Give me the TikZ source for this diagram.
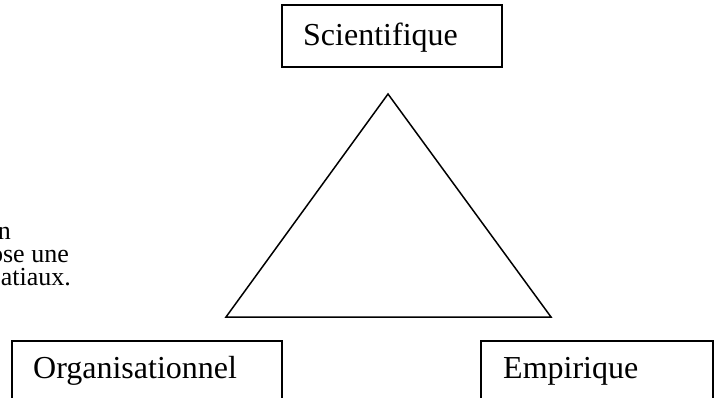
\documentclass[tikz,border=0pt]{standalone}
\usepackage{fontspec}
\setmainfont{Liberation Serif}
\begin{document}
\begin{tikzpicture}[x=1pt,y=-1pt,
  framebox/.style={draw=black,line width=1.5pt},
  label/.style={font=\fontsize{32}{38}\selectfont,anchor=base west,inner sep=0pt},
  note/.style={font=\fontsize{26}{30}\selectfont,anchor=base east,inner sep=0pt}]
\useasboundingbox (0,0) rectangle (719,398);
\clip (0,0) rectangle (719,398);
% the three boxes
\draw[framebox] (282,5) rectangle (502,67);
\draw[framebox] (12,341) rectangle (282,420);
\draw[framebox] (481,341) rectangle (713,420);
\node[label] (sci) at (303,46) {Scientifique};
\node[label] (org) at (33,378) {Organisationnel};
\node[label] (emp) at (503,378) {Empirique};
% the triangle
\coordinate (top) at (388,94);
\coordinate (bl) at (226,317);
\coordinate (br) at (551,317);
\draw[line width=1.5pt,line join=miter] (top) -- (bl) -- (br) -- cycle;
% text cut off at the left margin
\node[note] (n1) at (11,239) {n};
\node[note] (n2) at (69,262) {ose une};
\node[note] (n3) at (71,285) {atiaux.};
\end{tikzpicture}
\end{document}
